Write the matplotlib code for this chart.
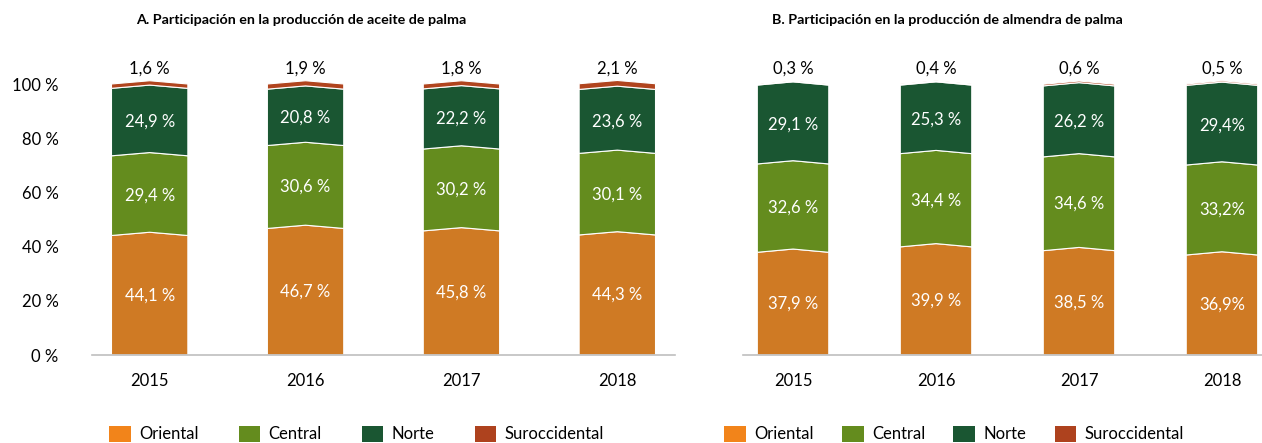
import matplotlib.pyplot as plt
from matplotlib.patches import Patch

plt.rcParams['font.family'] = ['Lato', 'DejaVu Sans']

years = ['2015', '2016', '2017', '2018']
regions = ['Oriental', 'Central', 'Norte', 'Suroccidental']

# A. aceite de palma (%)
a_oriental = [44.1, 46.7, 45.8, 44.3]
a_central = [29.4, 30.6, 30.2, 30.1]
a_norte = [24.9, 20.8, 22.2, 23.6]
a_suroc = [1.6, 1.9, 1.8, 2.1]

# B. almendra de palma (%)
b_oriental = [37.9, 39.9, 38.5, 36.9]
b_central = [32.6, 34.4, 34.6, 33.2]
b_norte = [29.1, 25.3, 26.2, 29.4]
b_suroc = [0.3, 0.4, 0.6, 0.5]

# label text as printed in the source
b_oriental_lbl = ['37,9 %', '39,9 %', '38,5 %', '36,9%']
b_central_lbl = ['32,6 %', '34,4 %', '34,6 %', '33,2%']
b_norte_lbl = ['29,1 %', '25,3 %', '26,2 %', '29,4%']

bar_colors = ['#CF7A24', '#648C1E', '#1A5632', '#B0441E']
legend_colors = ['#F2841A', '#648C1E', '#1A5632', '#AE421E']


def fmt(v):
    return f'{v:.1f}'.replace('.', ',') + ' %'


def draw_panel(ax, series, labels, width, peak=1.2):
    for i in range(len(years)):
        lo = 0
        for k, vals in enumerate(series):
            hi = lo + vals[i]
            x0, x1 = i - width / 2, i + width / 2
            lo_peak = lo + peak if k > 0 else lo
            xs = [x0, i, x1, x1, i, x0]
            ys = [lo, lo_peak, lo, hi, hi + peak, hi]
            ax.fill(xs, ys, color=bar_colors[k], edgecolor='white',
                    linewidth=0.8, clip_on=False)
            if k < 3:
                ax.text(i, (lo + hi) / 2, labels[k][i], ha='center', va='center',
                        color='white', fontsize=12)
            else:
                ax.text(i, 102.8, labels[k][i], ha='center', va='bottom',
                        color='black', fontsize=12)
            lo = hi


fig = plt.figure(figsize=(12.62, 4.43), dpi=100)
ax1 = fig.add_axes([92 / 1262, 88 / 443, 583 / 1262, 271 / 443])
ax2 = fig.add_axes([743 / 1262, 88 / 443, 519 / 1262, 271 / 443])

series_a = [a_oriental, a_central, a_norte, a_suroc]
labels_a = [[fmt(v) for v in s] for s in series_a]
draw_panel(ax1, series_a, labels_a, 0.49)

series_b = [b_oriental, b_central, b_norte, b_suroc]
labels_b = [b_oriental_lbl, b_central_lbl, b_norte_lbl, [fmt(v) for v in b_suroc]]
draw_panel(ax2, series_b, labels_b, 0.5)

ax1.set_xlim(-0.37, 3.37)
ax2.set_xlim(-0.35, 3.28)
for ax in (ax1, ax2):
    ax.set_ylim(0, 100)
    for s in ['top', 'right', 'left']:
        ax.spines[s].set_visible(False)
    ax.spines['bottom'].set_color('#BFBFBF')
    ax.spines['bottom'].set_linewidth(1.2)
    ax.set_xticks(range(len(years)))
    ax.set_xticklabels(years, fontsize=12)
    ax.tick_params(axis='x', length=0, pad=13)

ax1.set_yticks([0, 20, 40, 60, 80, 100])
ax1.set_yticklabels(['0 %', '20 %', '40 %', '60 %', '80 %', '100 %'], fontsize=12)
ax1.tick_params(axis='y', length=0, pad=24)
ax2.set_yticks([])

fig.text(301 / 1262, 1 - 20 / 443, 'A. Participación en la producción de aceite de palma',
         ha='center', va='center', fontsize=10.3, fontweight='bold')
fig.text(947 / 1262, 1 - 20 / 443, 'B. Participación en la producción de almendra de palma',
         ha='center', va='center', fontsize=10.3, fontweight='bold')

handles = [Patch(facecolor=c) for c in legend_colors]
fig.legend(handles, regions, loc='center left', bbox_to_anchor=(94 / 1262, 1 - 434 / 443),
           ncol=4, frameon=False, fontsize=12, handlelength=1.3, handleheight=1.1,
           columnspacing=2.4, handletextpad=0.5)
fig.legend(handles, regions, loc='center left', bbox_to_anchor=(709 / 1262, 1 - 434 / 443),
           ncol=4, frameon=False, fontsize=12, handlelength=1.3, handleheight=1.1,
           columnspacing=1.7, handletextpad=0.5)

fig.savefig('out.png', dpi=100)
